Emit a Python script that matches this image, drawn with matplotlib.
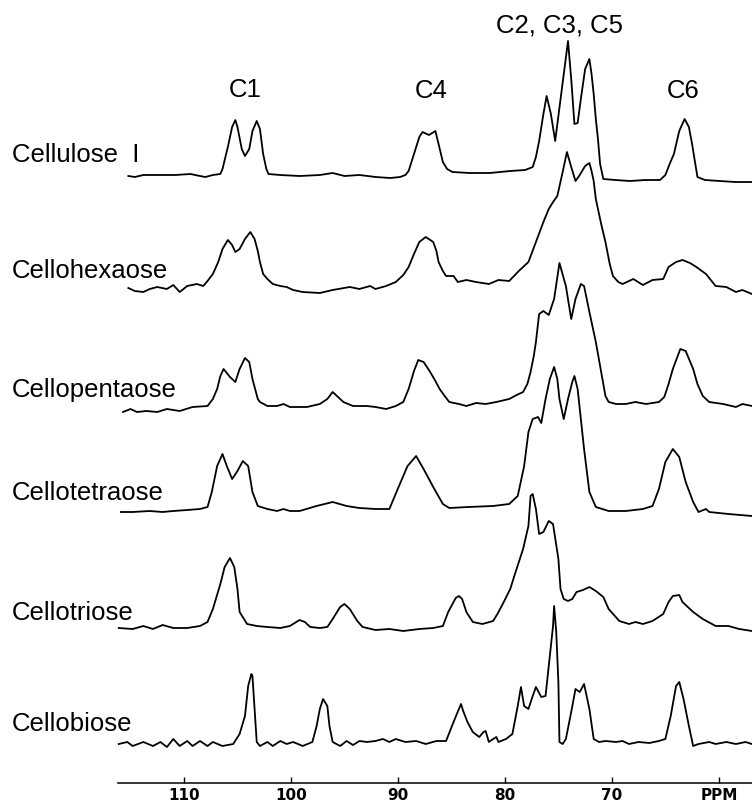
import numpy as np
import matplotlib; matplotlib.use("Agg")
import matplotlib.pyplot as plt
from matplotlib.transforms import blended_transform_factory

# 13C CP/MAS NMR spectra of cellulose and cello-oligosaccharides
# ppm positions and intensities (a.u., 0 = local baseline)
ppm_cellulose = [115.2,114.6,113.8,112.2,110.8,109.4,108.5,108.0,107.3,106.6,106.4,105.9,105.5,105.2,105.0,104.6,104.3,103.9,103.6,103.2,102.9,102.6,102.3,102.1,101.0,99.2,97.3,96.1,95.0,93.6,92.1,90.7,89.8,89.3,89.0,88.5,88.0,87.7,87.1,86.5,86.2,85.8,85.4,84.9,83.3,81.4,79.5,78.1,77.4,77.1,76.8,76.4,76.1,75.7,75.3,74.1,73.8,73.5,73.2,72.9,72.5,72.1,71.9,71.7,71.5,71.3,71.1,70.8,69.7,68.3,66.9,65.5,65.0,64.6,64.2,63.7,63.2,62.8,62.5,62.2,62.0,61.3,59.9,58.5,56.9]
int_cellulose = [3,2,4,4,4,5,3,2,4,5,10,32,52,59,52,30,23,30,48,58,50,25,10,5,4,3,4,6,3,4,2,1,2,4,8,25,42,47,44,48,35,17,10,7,6,6,8,9,12,22,38,65,83,65,38,138,100,55,56,80,110,120,105,85,60,40,15,0,-1,-2,-1,-1,4,15,25,48,60,52,35,15,2,-1,-2,-3,-3]

ppm_hexa = [115.2,114.6,113.8,113.2,112.5,111.6,111.0,110.4,109.7,108.8,108.2,107.8,107.3,106.8,106.4,105.9,105.5,105.2,104.8,104.3,103.8,103.4,103.1,102.9,102.6,102.2,101.7,101.0,100.4,99.8,98.9,97.3,96.1,94.5,93.6,92.6,92.1,91.1,90.2,89.5,89.0,88.5,88.0,87.4,86.7,86.4,86.2,85.8,85.5,84.8,84.4,83.6,82.7,81.5,80.6,79.6,78.7,77.8,77.1,76.4,75.9,75.5,75.1,74.6,74.2,73.8,73.4,73.0,72.5,72.1,71.9,71.7,71.5,71.0,70.6,70.2,69.9,69.4,69.0,68.0,67.1,66.2,65.2,64.7,64.0,63.4,62.7,62.1,61.2,60.3,59.3,58.4,57.8,56.9]
int_hexa = [1,-2,-3,0,2,0,4,-3,3,5,3,8,15,27,40,49,44,37,40,50,57,50,38,27,15,10,5,3,2,-1,-3,-4,-1,2,0,3,0,3,7,14,22,35,47,52,47,38,27,18,13,13,7,9,7,5,9,8,18,27,47,67,80,87,93,117,137,122,108,114,123,126,118,108,90,65,47,25,13,7,5,10,4,9,10,22,27,29,26,22,15,3,2,-3,-1,-5]

ppm_penta = [115.7,115.0,114.4,113.5,112.5,111.6,110.4,109.2,107.8,107.3,106.9,106.6,106.3,105.7,105.2,104.8,104.3,103.9,103.6,103.1,102.9,102.2,101.3,100.7,100.1,98.5,97.3,96.6,96.1,95.4,95.1,94.2,92.9,92.1,91.1,90.2,89.5,89.0,88.5,88.1,87.6,87.1,86.6,86.1,85.7,85.2,84.3,83.6,82.7,81.8,80.8,79.6,78.9,78.3,77.9,77.6,77.3,77.1,76.8,76.4,75.9,75.4,74.9,74.3,73.8,73.4,72.9,72.6,72.1,71.5,71.0,70.6,70.3,69.6,68.7,67.8,66.8,65.6,65.1,64.7,64.3,63.6,63.1,62.4,62.0,61.5,60.9,59.6,58.4,57.8,56.9]
int_penta = [-6,-3,-6,-5,-6,-3,-5,-1,0,7,17,30,37,29,24,37,48,44,27,7,4,0,0,2,-1,-1,2,7,14,7,4,0,0,-1,-3,0,4,17,35,46,44,36,27,17,11,4,2,0,3,2,4,7,11,14,22,34,50,64,92,95,91,107,143,120,87,107,122,120,94,64,34,10,4,2,2,4,2,4,9,22,37,57,55,37,22,10,4,2,-1,2,0]

ppm_tetra = [115.9,114.8,113.2,112.0,111.0,109.7,108.5,107.8,107.4,106.9,106.4,106.0,105.5,105.0,104.5,104.0,103.6,103.1,102.2,101.3,100.7,100.1,99.2,97.6,96.1,94.8,93.6,92.1,90.8,89.9,89.1,88.3,87.6,86.7,85.8,85.2,83.4,81.1,79.6,78.8,78.2,77.8,77.4,76.9,76.6,76.2,75.8,75.4,75.1,74.9,74.5,74.1,73.7,73.5,73.2,73.0,72.6,72.1,71.5,70.3,68.7,67.1,66.2,65.6,65.0,64.3,63.7,63.1,62.4,61.9,61.2,60.9,59.1,56.9]
int_tetra = [-1,-1,0,-1,0,1,2,4,19,45,57,45,32,40,50,45,19,5,2,0,2,0,0,5,9,5,3,2,2,25,45,55,42,24,7,3,4,5,7,15,45,79,92,94,88,112,132,144,132,112,92,112,129,135,122,102,62,19,4,0,0,2,5,22,49,62,54,29,9,-1,2,-1,-3,-5]

ppm_tri = [116.1,114.8,113.8,112.9,112.0,111.0,109.7,108.5,107.8,107.3,106.6,106.2,105.7,105.3,105.0,104.8,104.1,103.2,102.2,101.0,100.1,99.2,98.7,98.2,97.3,96.6,96.1,95.4,95.0,94.5,93.8,93.3,92.1,90.8,89.5,88.0,86.7,85.8,85.3,84.9,84.6,84.3,84.0,83.6,83.0,82.1,81.1,80.7,80.2,79.5,79.0,78.3,77.8,77.6,77.4,77.1,76.8,76.4,75.9,75.5,75.0,74.8,74.5,74.1,73.7,73.3,72.7,72.1,71.5,70.8,70.3,69.3,68.4,67.8,67.1,66.2,65.2,64.7,64.3,63.7,63.4,62.4,61.5,60.3,59.1,58.1,56.9]
int_tri = [0,-1,2,-1,3,0,0,2,6,19,44,61,70,61,39,16,4,2,1,0,2,8,6,1,0,1,9,21,24,19,7,1,-2,-1,-3,-1,0,2,16,24,30,32,29,16,6,4,7,14,24,39,56,79,102,132,134,119,94,96,107,104,69,39,29,27,29,36,38,41,37,31,19,7,4,6,4,7,14,26,32,33,26,16,9,2,2,-1,-3]

ppm_bi = [116.1,115.3,114.8,113.8,112.9,112.2,111.6,111.0,110.4,109.7,109.2,108.5,107.8,107.3,106.4,105.4,104.8,104.3,104.0,103.7,103.6,103.4,103.2,102.9,102.2,101.7,101.0,100.4,99.8,98.9,98.0,97.6,97.3,97.0,96.6,96.4,96.1,95.4,94.8,94.2,93.6,92.9,92.1,91.4,90.8,90.2,89.3,88.3,87.4,86.4,85.5,84.8,84.3,84.1,83.9,83.5,83.0,82.4,82.0,81.8,81.5,81.1,80.8,80.6,79.9,79.3,78.8,78.5,78.2,77.8,77.4,77.1,76.6,76.2,75.9,75.5,75.4,75.2,75.0,74.9,74.6,74.3,73.8,73.4,73.0,72.6,72.1,71.7,71.2,70.6,69.6,69.0,68.4,67.5,66.5,65.6,65.0,64.5,64.0,63.7,63.3,62.8,62.4,61.9,60.9,60.3,59.3,58.4,57.5,56.9]
int_bi = [0,2,-2,2,-2,2,-3,5,-2,3,-2,3,-2,2,-2,0,10,28,58,70,68,35,2,-2,2,-2,3,0,2,-2,2,18,35,45,38,18,2,-2,3,-1,3,2,3,5,2,5,2,3,0,3,3,22,35,40,33,22,12,7,12,13,2,5,7,2,5,10,38,57,38,35,48,57,47,48,78,118,138,112,62,2,0,5,32,55,52,60,35,5,2,3,2,3,0,2,1,3,5,28,58,62,45,18,-2,0,2,0,2,0,2,0]

names = ["Cellulose  I", "Cellohexaose", "Cellopentaose", "Cellotetraose", "Cellotriose", "Cellobiose"]
spectra = [(ppm_cellulose, int_cellulose), (ppm_hexa, int_hexa), (ppm_penta, int_penta),
           (ppm_tetra, int_tetra), (ppm_tri, int_tri), (ppm_bi, int_bi)]
peak_names = ["C1", "C4", "C2, C3, C5", "C6"]
peak_ppm = [104.3, 86.9, 74.9, 63.3]

ticks = [110, 100, 90, 80, 70, 60]
tick_labels = ["110", "100", "90", "80", "70", "PPM"]

# layout (pixel-like units on an inverted y axis)
offsets = [180, 290, 407, 512, 629, 745]
name_base = [162, 278, 397, 500, 620, 731]
peak_base = [97, 98, 32, 98]

fig = plt.figure(figsize=(7.52, 8.04), dpi=100)
ax = fig.add_axes([0, 0, 1, 1])
ax.set_xlim(127.2, 56.9)
ax.set_ylim(804, 0)

for (p, s), off in zip(spectra, offsets):
    ax.plot(p, off - np.array(s), color="black", lw=1.3, solid_joinstyle="round")

lab_font = dict(family=["Liberation Sans", "DejaVu Sans"], fontsize=18.5, color="black")
tr = blended_transform_factory(ax.transAxes, ax.transData)
for n, yb in zip(names, name_base):
    ax.text(0.016, yb, n, transform=tr, ha="left", va="baseline", **lab_font)
for n, p, yb in zip(peak_names, peak_ppm, peak_base):
    ax.text(p, yb, n, ha="center", va="baseline", **lab_font)

for sp in ["top", "left", "right"]:
    ax.spines[sp].set_visible(False)
ax.spines["bottom"].set_position(("data", 784))
ax.spines["bottom"].set_bounds(116.2, 56.9)
ax.spines["bottom"].set_linewidth(1.1)
ax.set_yticks([])
ax.set_xticks(ticks)
ax.set_xticklabels(tick_labels, fontfamily="DejaVu Sans", fontweight="heavy", fontsize=11)
ax.tick_params(axis="x", direction="in", length=4, width=1, pad=3)
ax.patch.set_visible(False)

fig.savefig("out.png", dpi=100)
